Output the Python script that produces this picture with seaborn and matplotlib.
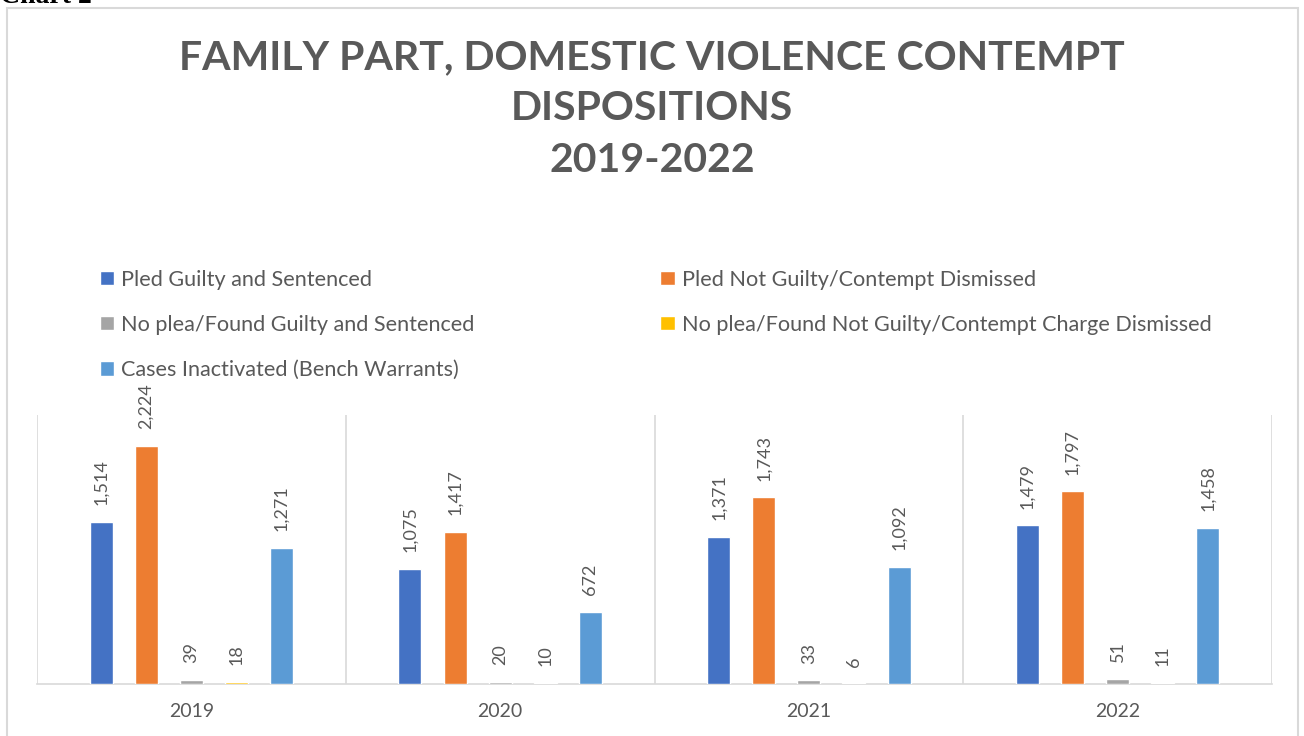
import pandas as pd
import matplotlib.pyplot as plt
import seaborn as sns
from matplotlib.patches import Rectangle

# Data
years = ["2019", "2020", "2021", "2022"]
series = [
    "Pled Guilty and Sentenced",
    "Pled Not Guilty/Contempt Dismissed",
    "No plea/Found Guilty and Sentenced",
    "No plea/Found Not Guilty/Contempt Charge Dismissed",
    "Cases Inactivated (Bench Warrants)",
]
pled_guilty = [1514, 1075, 1371, 1479]
pled_not_guilty = [2224, 1417, 1743, 1797]
no_plea_guilty = [39, 20, 33, 51]
no_plea_not_guilty = [18, 10, 6, 11]
inactivated = [1271, 672, 1092, 1458]
colors = ["#4472C4", "#ED7D31", "#A5A5A5", "#FFC000", "#5B9BD5"]

values = [pled_guilty, pled_not_guilty, no_plea_guilty, no_plea_not_guilty, inactivated]
rows = []
for s, vals in zip(series, values):
    for y, v in zip(years, vals):
        rows.append({"Year": y, "Disposition": s, "Count": v})
df = pd.DataFrame(rows)

sns.set_theme(style="white")
plt.rcParams["font.family"] = ["Lato", "DejaVu Sans"]
grey = "#595959"

fig = plt.figure(figsize=(13.04, 7.36), dpi=100)
ax = fig.add_axes([37 / 1304, 52 / 736, 1235 / 1304, 269 / 736])

sns.barplot(
    data=df, x="Year", y="Count", hue="Disposition", hue_order=series,
    palette=colors, width=0.73, gap=0.49, saturation=1, ax=ax, legend=True,
)

ax.set_ylim(0, 2510)
ax.set_xlim(-0.5, 3.5)
ax.set_yticks([])
ax.set_xlabel("")
ax.set_ylabel("")
for side in ["top", "left", "right"]:
    ax.spines[side].set_visible(False)
ax.spines["bottom"].set_color("#D9D9D9")
ax.spines["bottom"].set_linewidth(1.2)
ax.spines["bottom"].set_zorder(0.5)
for xv in [-0.5, 0.5, 1.5, 2.5, 3.5]:
    ax.axvline(xv, color="#D9D9D9", lw=1.2, zorder=0)
ax.tick_params(axis="x", length=0, pad=14, labelsize=14, labelcolor=grey)

for container in ax.containers:
    ax.bar_label(container, fmt="{:,.0f}", rotation=90, padding=12,
                 fontsize=13, color=grey)

handles, labels = ax.get_legend_handles_labels()
ax.get_legend().remove()
order = [0, 2, 4, 1, 3]
fig.legend(
    [handles[i] for i in order], [labels[i] for i in order],
    loc="upper left", bbox_to_anchor=(80 / 1304, 1 - 250 / 736), ncol=2,
    frameon=False, fontsize=15.6, labelcolor=grey, handlelength=0.65,
    handleheight=0.65, handletextpad=0.33, labelspacing=1.17, columnspacing=8.6,
)

fig.text(0.5, 1 - 39 / 736, "FAMILY PART, DOMESTIC VIOLENCE CONTEMPT\nDISPOSITIONS\n2019-2022",
         ha="center", va="top", fontsize=29.5, fontweight="bold", color=grey,
         linespacing=1.48)

# chart caption, cut off at the top edge
fig.text(0.0, 1 - 3 / 736, "Chart 2", ha="left", va="baseline", fontsize=20,
         fontweight="bold", color="black", family="Liberation Serif")

fig.patches.append(Rectangle((7 / 1304, -0.01), 1291 / 1304, 1 - 8 / 736 + 0.01,
                             transform=fig.transFigure, fill=False,
                             edgecolor="#D9D9D9", lw=1.5))

fig.savefig("out.png", dpi=100)
